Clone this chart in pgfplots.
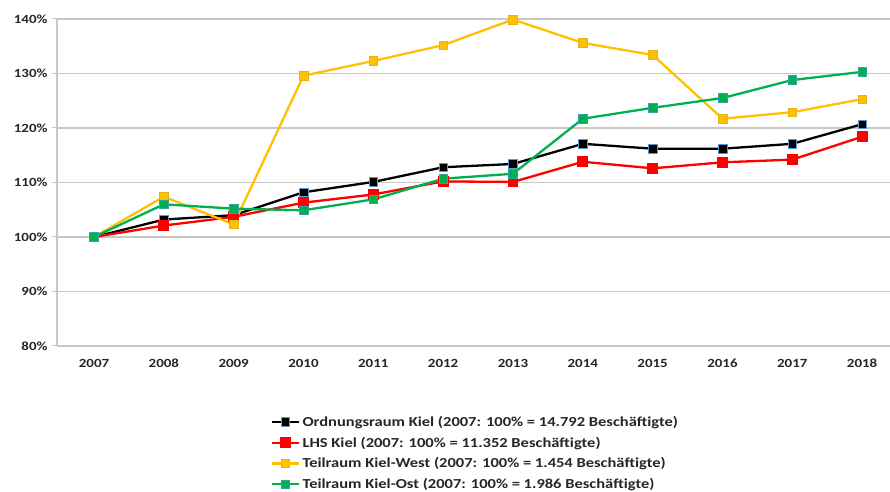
\documentclass[border=0pt]{standalone}
\usepackage{fontspec}
\setmainfont{Carlito}[FakeStretch=1.2]
\usepackage{pgfplots}
\pgfplotsset{compat=1.18}
\definecolor{gridgray}{RGB}{200,200,200}
\definecolor{exred}{RGB}{255,0,0}
\definecolor{exyellow}{RGB}{255,192,0}
\definecolor{exgreen}{RGB}{0,176,80}
\definecolor{exblue}{RGB}{91,155,213}
\begin{document}
\begin{tikzpicture}[x=1bp,y=1bp]
\path[use as bounding box] (-57,-146) rectangle (833,346);
\begin{axis}[
  scale only axis,
  width=838bp, height=327bp,
  xmin=2006.47, xmax=2018.47,
  ymin=80, ymax=140,
  ytick={80,90,100,110,120,130,140},
  yticklabel={\pgfmathprintnumber{\tick}\%},
  xtick={2007,...,2018},
  xticklabel style={/pgf/number format/1000 sep=},
  minor xtick={2006.5,2007.5,...,2018.5},
  /pgf/number format/assume math mode=true,
  ymajorgrids,
  grid style={gridgray, line width=1.8bp},
  axis line style={gridgray, line width=1.8bp},
  axis x line=bottom, axis y line=left,
  x axis line style={-},
  y axis line style={-},
  major tick length=5bp, minor tick length=5bp,
  tick style={gridgray, line width=1bp},
  xtick style={draw=none},
  minor x tick style={gridgray, line width=1bp},
  ytick style={gridgray, line width=1bp},
  tick align=outside,
  ticklabel style={font=\bfseries\fontsize{12.5}{14}\selectfont, text=black!85},
  yticklabel style={xshift=-1bp},
  xticklabel style={yshift=-5bp, text height=8bp, text depth=0bp},
  clip=false,
  legend style={at={(0.2554,-0.208)}, anchor=north west, draw=none, fill=none,
    font=\bfseries\fontsize{13.8}{16}\selectfont, text=black!85,
    row sep=5bp, inner sep=0pt, cells={anchor=west}},
  legend cell align=left,
  legend image code/.code={
    \draw[mark repeat=2,mark phase=2] plot coordinates {(0bp,0bp)(13bp,0bp)(27bp,0bp)};
  },
  every axis plot/.append style={line width=2.3bp, mark=square*, mark size=4.3bp},
]
\addplot[black, mark options={draw=exblue, fill=black, line width=0.6bp}] coordinates {
(2007,100)(2008,103.2)(2009,104.0)(2010,108.2)(2011,110.1)(2012,112.8)(2013,113.4)(2014,117.1)(2015,116.2)(2016,116.2)(2017,117.1)(2018,120.7)};
\addlegendentry{Ordnungsraum Kiel (2007: 100\% = 14.792 Beschäftigte)}
\addplot[exred, mark options={draw=exred, fill=exred}] coordinates {
(2007,100)(2008,102.1)(2009,103.7)(2010,106.3)(2011,107.8)(2012,110.2)(2013,110.1)(2014,113.8)(2015,112.6)(2016,113.7)(2017,114.2)(2018,118.4)};
\addlegendentry{LHS Kiel (2007: 100\% = 11.352 Beschäftigte)}
\addplot[exyellow, mark options={draw=exyellow!80!gray, fill=exyellow, line width=0.6bp}] coordinates {
(2007,100)(2008,107.4)(2009,102.3)(2010,129.6)(2011,132.3)(2012,135.2)(2013,139.9)(2014,135.6)(2015,133.4)(2016,121.7)(2017,122.9)(2018,125.3)};
\addlegendentry{Teilraum Kiel-West (2007: 100\% = 1.454 Beschäftigte)}
\addplot[exgreen, mark options={draw=exblue!60!exgreen, fill=exgreen, line width=0.6bp}] coordinates {
(2007,100)(2008,106.0)(2009,105.2)(2010,104.9)(2011,106.9)(2012,110.7)(2013,111.6)(2014,121.7)(2015,123.7)(2016,125.5)(2017,128.8)(2018,130.3)};
\addlegendentry{Teilraum Kiel-Ost (2007: 100\% = 1.986 Beschäftigte)}
\end{axis}
\end{tikzpicture}
\end{document}
